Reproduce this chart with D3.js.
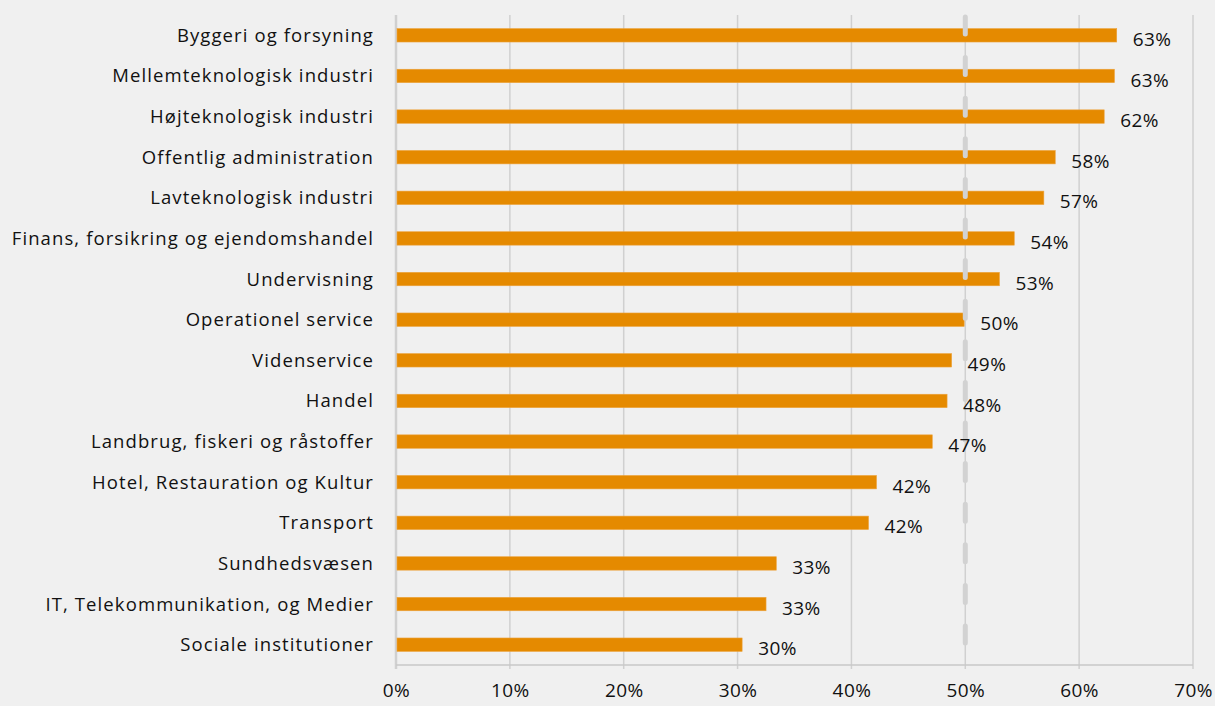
<!DOCTYPE html>
<html lang="da">
<head>
<meta charset="UTF-8">
<title>Andel pr. branche</title>
<script src="https://d3js.org/d3.v7.min.js"></script>
<style>
  body { margin: 0; background: #f0f0f0; }
  svg { display: block; }
  text { font-family: "Open Sans", sans-serif; fill: #111; }
</style>
</head>
<body>
<div id="chart"></div>
<script>
// data, top to bottom
var categories = [
  "Byggeri og forsyning",
  "Mellemteknologisk industri",
  "Højteknologisk industri",
  "Offentlig administration",
  "Lavteknologisk industri",
  "Finans, forsikring og ejendomshandel",
  "Undervisning",
  "Operationel service",
  "Videnservice",
  "Handel",
  "Landbrug, fiskeri og råstoffer",
  "Hotel, Restauration og Kultur",
  "Transport",
  "Sundhedsvæsen",
  "IT, Telekommunikation, og Medier",
  "Sociale institutioner"
];
var values = [0.633, 0.631, 0.622, 0.579, 0.569, 0.543, 0.530, 0.499, 0.488, 0.484, 0.471, 0.422, 0.415, 0.334, 0.325, 0.304];
var xTicks = [0, 0.1, 0.2, 0.3, 0.4, 0.5, 0.6, 0.7];
var refValue = 0.5;

var W = 1215, H = 706;
var margin = {top: 15, right: 22, bottom: 41, left: 396};
var width = W - margin.left - margin.right,
    height = H - margin.top - margin.bottom;

var svg = d3.select("#chart").append("svg")
    .attr("width", W).attr("height", H);
svg.append("rect").attr("width", W).attr("height", H).attr("fill", "#f0f0f0");

var g = svg.append("g")
    .attr("transform", "translate(" + margin.left + "," + margin.top + ")");

var x = d3.scaleLinear().domain([0, 0.7]).range([0, width]);
var y = d3.scaleBand().domain(categories).range([0, height]).paddingInner(0.67).paddingOuter(0.335);

// gridlines
g.selectAll(".grid").data(xTicks).enter().append("line")
    .attr("x1", function(d) { return x(d); })
    .attr("x2", function(d) { return x(d); })
    .attr("y1", 0).attr("y2", height + 4)
    .attr("stroke", "#d0d0d0")
    .attr("stroke-width", function(d) { return d === 0 ? 2.5 : 1.5; });

// bottom axis line
g.append("line")
    .attr("x1", 0).attr("x2", width)
    .attr("y1", height).attr("y2", height)
    .attr("stroke", "#c8c8c8").attr("stroke-width", 1.5);

// tick labels (reference crops them at the bottom; keep them just inside)
var xAxis = d3.axisBottom(x).tickValues(xTicks).tickFormat(d3.format(".0%")).tickSize(0).tickPadding(19);
var ax = g.append("g").attr("transform", "translate(0," + height + ")").call(xAxis);
ax.select(".domain").remove();
ax.selectAll("text").style("font-size", "19px").style("font-family", "Open Sans")
    .style("letter-spacing", "0.4px").attr("fill", "#111");

// bars
g.selectAll(".bar").data(values).enter().append("rect")
    .attr("x", x(0) + 1)
    .attr("y", function(d, i) { return y(categories[i]); })
    .attr("width", function(d) { return x(d) - x(0) - 1; })
    .attr("height", y.bandwidth())
    .attr("fill", "#e58a00")
    .attr("stroke", "#eda23a").attr("stroke-width", 0.6);

// dashed reference line at 50%
g.append("line")
    .attr("x1", x(refValue)).attr("x2", x(refValue))
    .attr("y1", 2).attr("y2", height)
    .attr("stroke", "#d2d2d2")
    .attr("stroke-width", 5)
    .attr("stroke-linecap", "round")
    .attr("stroke-dasharray", "17,23.6");

// category labels
g.selectAll(".cat").data(categories).enter().append("text")
    .attr("x", -22)
    .attr("y", function(d) { return y(d) + y.bandwidth() / 2; })
    .attr("dy", "0.35em")
    .attr("text-anchor", "end")
    .style("font-size", "18.5px")
    .style("letter-spacing", "1.1px")
    .text(function(d) { return d; });

// value labels
g.selectAll(".val").data(values).enter().append("text")
    .attr("x", function(d) { return x(d) + 16; })
    .attr("y", function(d, i) { return y(categories[i]) + y.bandwidth() / 2 + 4; })
    .attr("dy", "0.35em")
    .style("font-size", "19px")
    .style("letter-spacing", "0.4px")
    .text(function(d) { return d3.format(".0%")(d); });
</script>
</body>
</html>
